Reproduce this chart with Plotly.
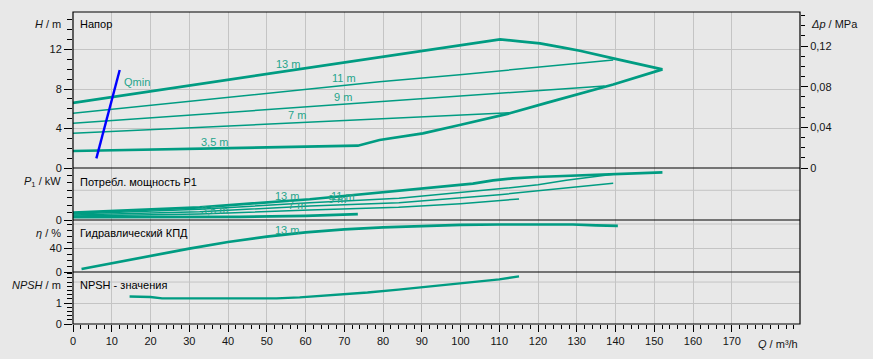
import plotly.graph_objects as go

TEAL = "#009c82"
LABEL_TEAL = "#26a58b"
FONT = "Liberation Sans, Arial, sans-serif"
TICKC = "#141414"
GRID = "#c4c4c4"
BG = "#e8e8e8"

# ---------------- Panel 1: head H (m) ----------------
q_upper = [0, 110.2, 115.3, 120.5, 126.5, 130.8, 139.4, 152.1]
h_upper = [6.6, 13.03, 12.83, 12.63, 12.19, 11.88, 11.11, 9.99]
q_lower = [0, 37, 58, 73.5, 79.1, 90.3, 99.8, 112.7, 122.2, 130.8, 139.4, 152.1]
h_lower = [1.72, 2.0, 2.12, 2.26, 2.84, 3.51, 4.36, 5.54, 6.6, 7.5, 8.45, 9.99]
q_h11 = [0, 53.3, 79.1, 99.8, 120.5, 139.4]
h_h11 = [5.54, 7.73, 8.74, 9.45, 10.26, 10.94]
q_h9 = [0, 58.5, 137.2]
h_h9 = [4.53, 6.15, 8.31]
q_h7 = [0, 58.5, 112.7]
h_h7 = [3.51, 4.59, 5.6]
q_qmin = [6.03, 12.05]
h_qmin = [0.98, 9.93]

# ---------------- Panel 2: power P1 (kW) ----------------
q_p13 = [0, 32.7, 61.1, 84.3, 92.9, 103.2, 108.4, 113.5, 119.5, 125.6, 130.8, 139.4, 148, 152.1]
p_p13 = [0.98, 1.71, 2.79, 3.9, 4.31, 4.89, 5.34, 5.61, 5.79, 5.92, 6.06, 6.24, 6.37, 6.42]
q_p11 = [0, 32.7, 61.1, 84.1, 110, 120, 127.3, 139.4]
p_p11 = [0.81, 1.44, 2.33, 2.92, 4.2, 4.75, 5.35, 6.15]
q_p9 = [0, 32.7, 61.1, 84.1, 110, 125, 139.4]
p_p9 = [0.67, 1.12, 1.88, 2.33, 3.4, 4.2, 4.94]
q_p7 = [0, 32.7, 61.1, 84, 100, 115.1]
p_p7 = [0.54, 0.81, 1.35, 1.71, 2.2, 2.83]
q_p35 = [0, 43, 60, 73.5]
p_p35 = [0.4, 0.42, 0.55, 0.8]

# ---------------- Panel 3: efficiency (%) ----------------
q_eta = [2.2, 10, 20, 30, 40, 50, 60, 70, 80, 90, 100, 110, 129, 135, 140.6]
v_eta = [5, 14.5, 27, 39, 50, 59, 66, 71, 74.5, 77, 78.5, 79.2, 79.2, 77.8, 77]

# ---------------- Panel 4: NPSH (m) ----------------
q_npsh = [14.6, 20, 23, 52.5, 58.5, 67, 76, 84, 96, 104, 110, 115.1]
v_npsh = [1.31, 1.29, 1.22, 1.22, 1.27, 1.38, 1.5, 1.64, 1.88, 2.03, 2.13, 2.27]

# ---------------- Axis ticks ----------------
x_ticks = list(range(0, 171, 10))
h_ticks = [0, 4, 8, 12]
dp_ticks = [0, 0.04, 0.08, 0.12]
dp_labels = ["0", "0,04", "0,08", "0,12"]
p_ticks = [0]
p_grid = [4]
eta_ticks = [0, 40]
eta_grid = [80]
npsh_ticks = [0, 1]
npsh_grid = [2]

# curve labels (text, Q, value)
head_labels = [("13 m", 55.4, 10.53), ("11 m", 69.9, 9.12), ("9 m", 69.6, 7.19),
               ("7 m", 57.7, 5.37), ("3,5 m", 36.6, 2.63)]
power_labels = [("13 m", 55.1, 3.27), ("11 m", 69.7, 3.27), ("9 m", 68.0, 2.79),
                ("7 m", 57.7, 2.02), ("3,5 m", 36.6, 1.35)]
eta_curve_labels = [("13 m", 55.1, 70)]

fig = go.Figure()


def add(x, y, xa, ya, w, color=TEAL):
    fig.add_trace(go.Scatter(x=x, y=y, xaxis=xa, yaxis=ya, mode="lines",
                             line=dict(color=color, width=w), hoverinfo="skip",
                             showlegend=False))


# panel 1
add(q_h11, h_h11, "x", "y", 1.5)
add(q_h9, h_h9, "x", "y", 1.5)
add(q_h7, h_h7, "x", "y", 1.5)
add(q_upper, h_upper, "x", "y", 2.7)
add(q_lower, h_lower, "x", "y", 2.7)
add(q_qmin, h_qmin, "x", "y", 2.4, "#0000ff")
fig.add_trace(go.Scatter(x=[0], y=[0], xaxis="x", yaxis="y2", mode="markers",
                         marker=dict(opacity=0), hoverinfo="skip", showlegend=False))
# panel 2
add(q_p11, p_p11, "x2", "y3", 1.5)
add(q_p9, p_p9, "x2", "y3", 1.5)
add(q_p7, p_p7, "x2", "y3", 1.5)
add(q_p35, p_p35, "x2", "y3", 2.7)
add(q_p13, p_p13, "x2", "y3", 2.7)
# panel 3
add(q_eta, v_eta, "x3", "y4", 2.7)
# panel 4
add(q_npsh, v_npsh, "x4", "y5", 2.4)

tickfont = dict(family=FONT, size=11, color=TICKC)
XR = [0, 187.6]

xbase = dict(range=XR, showgrid=True, gridcolor=GRID, gridwidth=1, zeroline=False,
             showline=False, tickmode="array", tickvals=x_ticks, fixedrange=True,
             automargin=False)


def yaxis(domain, rng, tv, anchor, minor_dtick):
    return dict(domain=domain, range=rng, anchor=anchor, tickmode="array", tickvals=tv,
                ticktext=[str(v) for v in tv], ticks="outside", ticklen=8,
                tickcolor="black", tickwidth=1, automargin=False,
                tickfont=tickfont, showgrid=True, gridcolor=GRID, gridwidth=1,
                zeroline=False, showline=False, fixedrange=True,
                minor=dict(dtick=minor_dtick, tick0=0, ticks="outside", ticklen=5,
                           tickcolor="black", tickwidth=1, showgrid=False))


fig.update_layout(
    template="none",
    width=873, height=359,
    margin=dict(l=73, r=73, t=12, b=35, pad=0, autoexpand=False),
    paper_bgcolor=BG, plot_bgcolor=BG,
    font=dict(family=FONT, size=11, color=TICKC),
    showlegend=False,
    hovermode=False,
    xaxis=dict(**xbase, anchor="y", showticklabels=False, ticks=""),
    xaxis2=dict(**xbase, anchor="y3", matches="x", showticklabels=False, ticks=""),
    xaxis3=dict(**xbase, anchor="y4", matches="x", showticklabels=False, ticks=""),
    xaxis4=dict(**xbase, anchor="y5", matches="x", showticklabels=True, ticks="outside",
                ticklen=7, tickcolor="black", tickwidth=1, tickfont=tickfont,
                minor=dict(dtick=2, tick0=0, ticks="outside", ticklen=4, tickcolor="black",
                           tickwidth=1, showgrid=False)),
    yaxis=yaxis([0.5, 1.0], [0, 15.8], h_ticks, "x", 1),
    yaxis2=dict(overlaying="y", side="right", anchor="x", range=[0, 0.1535],
                tickmode="array", tickvals=dp_ticks, ticktext=dp_labels, ticks="outside",
                ticklen=7, tickcolor="black", tickwidth=1, tickfont=tickfont,
                showgrid=False, automargin=False, fixedrange=True,
                zeroline=False, showline=False,
                minor=dict(dtick=0.01, tick0=0, ticks="outside", ticklen=4,
                           tickcolor="black", tickwidth=1, showgrid=False)),
    yaxis3=yaxis([1 / 3, 0.5], [0, 7], p_ticks, "x2", 1),
    yaxis4=yaxis([1 / 6, 1 / 3], [0, 86.7], eta_ticks, "x3", 10),
    yaxis5=yaxis([0, 1 / 6], [0, 2.48], npsh_ticks, "x4", 0.2),
)

shapes = []
for yref, vals in [("y3", p_grid), ("y4", eta_grid), ("y5", npsh_grid)]:
    for v in vals:
        shapes.append(dict(type="line", xref="paper", yref=yref, x0=0, x1=1, y0=v, y1=v,
                           line=dict(color=GRID, width=1), layer="below"))
shapes.append(dict(type="rect", xref="paper", yref="paper", x0=0, x1=1, y0=0, y1=1,
                   line=dict(color="black", width=1.2), layer="above"))
for yy in [0.5, 1 / 3, 1 / 6]:
    shapes.append(dict(type="line", xref="paper", yref="paper", x0=0, x1=1, y0=yy, y1=yy,
                       line=dict(color="black", width=1.2), layer="above"))
fig.update_layout(shapes=shapes)


def px(xp):
    return (xp - 73) / 727


def py(yp):
    return (324 - yp) / 312


anns = []


def ann(text, x, y, xanchor, color="black", xref="paper", yref="paper"):
    anns.append(dict(text=text, x=x, y=y, xref=xref, yref=yref, xanchor=xanchor,
                     yanchor="middle", showarrow=False,
                     font=dict(family=FONT, size=11, color=color)))


ann("<i>H</i> / m", px(63), py(24.5), "right", TICKC)
ann("<i>Δp</i> / MPa", px(809), py(24.5), "left", TICKC)
ann("<i>P</i><sub>1</sub> / kW", px(63), py(182), "right", TICKC)
ann("<i>η</i> / %", px(63), py(233), "right", TICKC)
ann("<i>NPSH</i> / m", px(63), py(285), "right", TICKC)
ann("<i>Q</i> / m³/h", 1.0, py(343.5), "right", TICKC)
ann("Напор", px(78), py(24.5), "left")
ann("Потребл. мощность P1", px(78), py(182), "left")
ann("Гидравлический КПД", px(78), py(233), "left")
ann("NPSH - значения", px(78), py(285), "left")

for t, q, v in head_labels:
    ann(t, q, v, "center", LABEL_TEAL, "x", "y")
ann("Qmin", 12.6, 8.74, "left", LABEL_TEAL, "x", "y")
for t, q, v in power_labels:
    ann(t, q, v, "center", LABEL_TEAL, "x2", "y3")
for t, q, v in eta_curve_labels:
    ann(t, q, v, "center", LABEL_TEAL, "x3", "y4")

fig.update_layout(annotations=anns)

post = ("document.body.style.margin='0';document.body.style.padding='0';"
        "document.body.style.overflow='hidden';"
        "document.body.style.background='" + BG + "';"
        "document.documentElement.style.background='" + BG + "';")
fig.write_html("out.html", post_script=post,
               config={"displayModeBar": False, "staticPlot": True})
